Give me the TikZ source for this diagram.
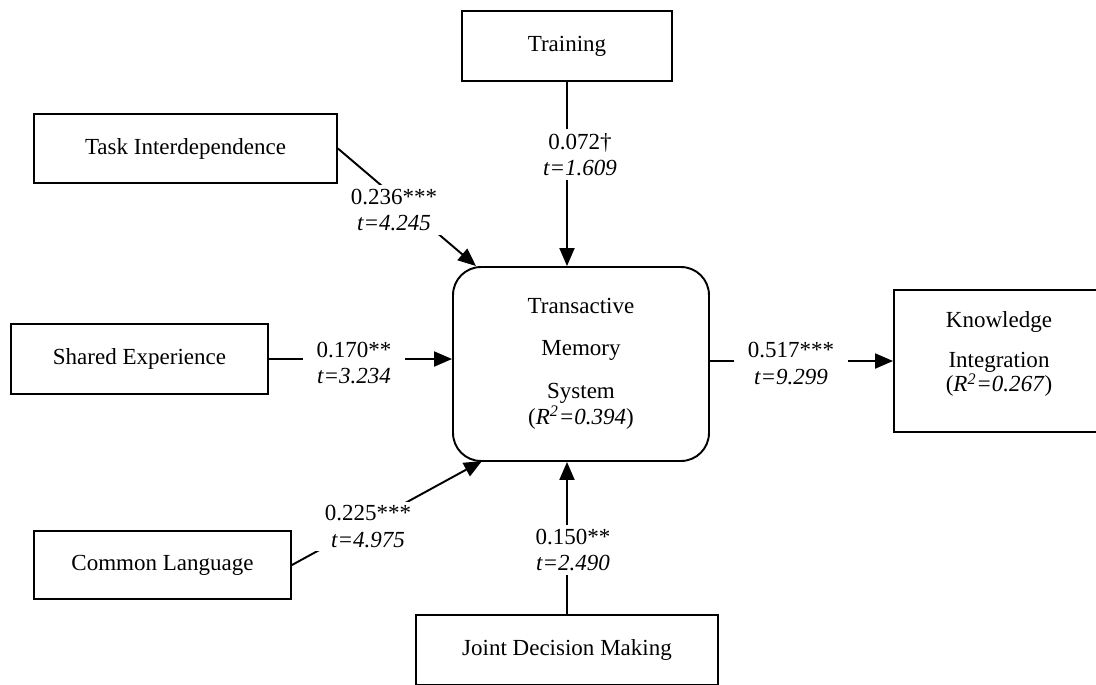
\documentclass[tikz,border=0pt]{standalone}
\usepackage{fontspec}
\setmainfont{Liberation Serif}
\usetikzlibrary{arrows.meta}

\begin{document}
\begin{tikzpicture}[x=0.02cm,y=-0.02cm,
  every node/.style={font=\fontsize{13.1pt}{14.8pt}\selectfont},
  box/.style={draw,line width=1.1pt,inner sep=0pt,minimum height=1.4cm,align=center},
  tmsbox/.style={box,rounded corners=0.56cm},
  coef/.style={fill=white,align=center,inner xsep=0.28cm,inner ysep=0.08cm},
  link/.style={line width=1.1pt,-{Triangle[length=0.36cm,width=0.3cm]}}]

  \useasboundingbox (0,0) rectangle (1096,684);

  %% antecedents
  \node[box,minimum width=4.2cm] (training) at (567,46) {Training};
  \node[box,minimum width=6.06cm,minimum height=1.38cm] (taskint) at (185.5,148.5) {Task Interdependence};
  \node[box,minimum width=5.14cm] (sharedexp) at (139.5,359) {Shared Experience};
  \node[box,minimum width=5.14cm,minimum height=1.36cm] (commonlang) at (162.5,565) {Common Language};
  \node[box,minimum width=6.04cm] (jointdm) at (567,650) {Joint Decision Making};

  %% mediator and outcome
  \node[tmsbox,minimum width=5.12cm,minimum height=3.88cm] (tms) at (581,364)
    {Transactive\\[9pt]Memory\\[9.5pt]System\\(\textit{R\textsuperscript{2}=0.394})};
  \node[box,minimum width=4.2cm,minimum height=2.84cm,
    label={[align=center,yshift=0.14cm]center:Knowledge\\[8pt]Integration\\[-1pt](\textit{R\textsuperscript{2}=0.267})}]
    (ki) at (999,361) {};

  %% paths
  \coordinate (tmsA) at (476,266);
  \coordinate (tmsB) at (482,461);
  \draw[link] (training.south) -- (training.south |- tms.north);
  \draw[link] (taskint.east) -- (tmsA);
  \draw[link] (sharedexp.east) -- (sharedexp.east -| tms.west);
  \draw[link] (ki.west -| tms.east) -- (ki.west);
  \draw[link] (commonlang.east) -- (tmsB);
  \draw[link] (jointdm.north) -- (jointdm.north |- tms.south);

  %% path coefficients
  \node[coef] (btrain) at (580,154.5) {0.072\textdagger\\\textit{t=1.609}};
  \node[coef] (btask) at (394,210) {0.236***\\\textit{t=4.245}};
  \node[coef] (bshared) at (354,363) {0.170**\\\textit{t=3.234}};
  \node[coef] (bki) at (791,363.5) {0.517***\\\textit{t=9.299}};
  \node[coef] (bcommon) at (368,526.5) {0.225***\\\textit{t=4.975}};
  \node[coef] (bjoint) at (573,550) {0.150**\\\textit{t=2.490}};

\end{tikzpicture}
\end{document}
